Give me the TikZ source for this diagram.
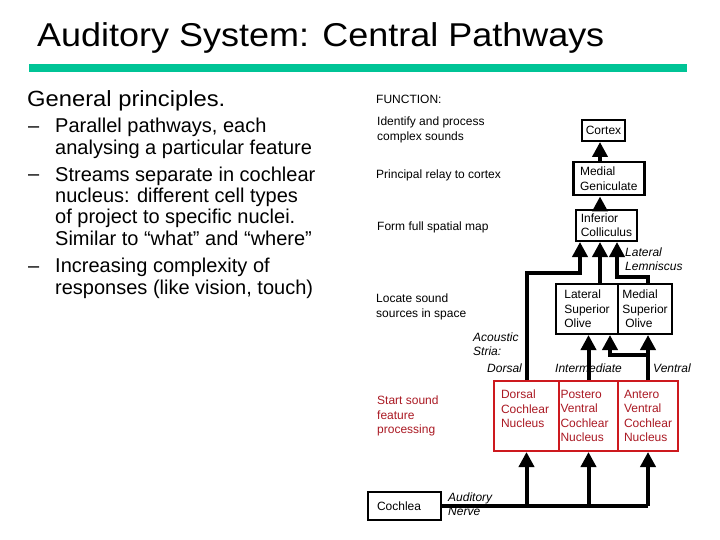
\documentclass[tikz,border=0pt]{standalone}
\usepackage{fontspec}
\usepackage{graphicx}
\setmainfont{Liberation Sans}
\usetikzlibrary{arrows.meta,calc}
\definecolor{barteal}{RGB}{0,196,150}
\definecolor{boxred}{RGB}{205,25,30}
\definecolor{txtred}{RGB}{170,25,35}
\tikzset{
  txt/.style={inner sep=0pt,anchor=base west,align=left,font=\fontsize{12}{14.3}\selectfont},
  itxt/.style={txt,font=\fontsize{12}{14.3}\selectfont\itshape},
  bigtxt/.style={inner sep=0pt,anchor=base west,align=left,font=\fontsize{20}{21.5}\selectfont},
  blackbox/.style={draw,line width=2pt,inner sep=0pt,align=center,font=\fontsize{12}{14.3}\selectfont,anchor=north west},
  redbox/.style={draw=boxred,line width=2pt,inner ysep=0pt,align=left,text=txtred,font=\fontsize{12}{14.3}\selectfont,anchor=north west,minimum height=70pt},
  arr/.style={line width=4pt,-{Triangle[width=15pt,length=15pt]}},
  nerve/.style={line width=4pt}
}
\begin{document}
\begin{tikzpicture}[x=1pt,y=-1pt]
\useasboundingbox (0,0) rectangle (720,540);
% title and bar
\node[inner sep=0pt,anchor=base west,font=\fontsize{33}{36}\selectfont] (title) at (37,47) {\scalebox{1.09}[1]{Auditory System: Central Pathways}};
\fill[barteal] (29,64) rectangle (687,72);
% left column (multi-line nodes: base = last line)
\node[inner sep=0pt,anchor=base west,font=\fontsize{22}{24}\selectfont] (gp) at (27,106.5) {\scalebox{1.08}[1]{General principles.}};
\node[bigtxt] (d1) at (28,133) {–};
\node[bigtxt] (b1) at (55,154.5) {Parallel pathways, each\\analysing a particular feature};
\node[bigtxt] (d2) at (28,181) {–};
\node[bigtxt] (b2) at (55,245.5) {Streams separate in cochlear\\nucleus: different cell types\\of project to specific nuclei.\\Similar to “what” and “where”};
\node[bigtxt] (d3) at (28,272.5) {–};
\node[bigtxt] (b3) at (55,294) {Increasing complexity of\\responses (like vision, touch)};
% function column
\node[txt] (fn) at (376,104) {FUNCTION:};
\node[txt,font=\fontsize{12}{15}\selectfont] (f1) at (377,141) {Identify and process\\complex sounds};
\node[txt] (f2) at (376,179) {Principal relay to cortex};
\node[txt] (f3) at (377,230.7) {Form full spatial map};
\node[txt] (f4) at (376,317) {Locate sound\\sources in space};
\node[txt,text=txtred] (f5) at (377,433.5) {Start sound\\feature\\processing};
% boxes
\node[blackbox,minimum width=43pt,minimum height=21pt] (cortex) at (581,119) {Cortex};
\node[blackbox,line width=2.5pt,minimum width=71pt,minimum height=33pt,align=left] (mg) at (572,161) {Medial\\Geniculate};
\node[blackbox,minimum width=61pt,minimum height=31pt,align=left] (ic) at (575,209) {Inferior\\Colliculus};
\node[blackbox,minimum width=62pt,minimum height=50pt,align=left] (lso) at (555,283) {Lateral\\Superior\\Olive};
\node[blackbox,minimum width=54pt,minimum height=50pt,align=left] (mso) at (617,283) {Medial\\Superior\\\hspace{3pt}Olive};
\node[redbox,text width=51pt,inner xsep=7pt] (dcn) at (493,380) {Dorsal\\Cochlear\\Nucleus\\\mbox{}};
\node[redbox,text width=56pt,inner xsep=1.5pt] (pvcn) at (558,380) {Postero\\Ventral\\Cochlear\\Nucleus};
\node[redbox,text width=48pt,inner xsep=6pt] (avcn) at (617,380) {Antero\\Ventral\\Cochlear\\Nucleus};
\node[blackbox,text width=55pt,inner xsep=9pt,minimum height=28pt,align=left] (cochlea) at (367,491) {Cochlea};
% helper coordinates
\coordinate (cX) at (600,0);
\coordinate (lX) at (580,0);
\coordinate (rX) at (617,0);
\coordinate (bX) at (610,0);
\coordinate (yL) at (0,273);
\coordinate (yR) at (0,277);
\coordinate (yB) at (0,355);
% connectors
\draw[arr] (mg.north -| cX) -- (cortex.south -| cX);
\draw[arr] (ic.north -| cX) -- (mg.south -| cX);
\draw[arr] (dcn.north) -- (dcn.north |- yL) -- (lX |- yL) -- (ic.south -| lX);
\draw[arr] (lso.north -| cX) -- (ic.south -| cX);
\draw[arr] (mso.north -| avcn.north) -- (avcn.north |- yR) -- (rX |- yR) -- (ic.south -| rX);
\draw[arr] (pvcn.north) -- (lso.south -| pvcn.north);
\draw[arr] (avcn.north) -- (mso.south -| avcn.north);
\draw[arr] (avcn.north |- yB) -- (bX |- yB) -- (lso.south -| bX);
\draw[nerve] (cochlea.east) -- (cochlea.east -| avcn.south);
\draw[arr] (cochlea.east -| dcn.south) -- (dcn.south);
\draw[arr] (cochlea.east -| pvcn.south) -- (pvcn.south);
\draw[arr] (cochlea.east -| avcn.south) -- (avcn.south);
% italic labels
\node[itxt] (ll) at (625,270.7) {Lateral\\Lemniscus};
\node[itxt] (as) at (473,355.7) {Acoustic\\Stria:};
\node[itxt] (sd) at (487,372.3) {Dorsal};
\node[itxt] (si) at (555,372) {Intermediate};
\node[itxt] (sv) at (653,372.7) {Ventral};
\node[itxt] (an) at (448,515.7) {Auditory\\Nerve};
\end{tikzpicture}
\end{document}
